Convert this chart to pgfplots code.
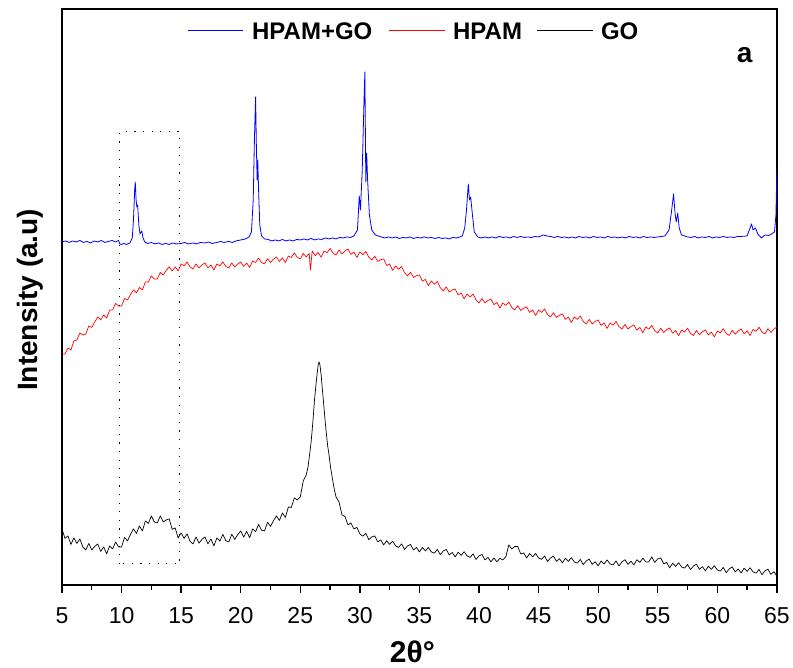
\documentclass[border=0pt]{standalone}
\usepackage{pgfplots}
\pgfplotsset{compat=1.18}
\usepackage{fontspec}
\setmainfont{Liberation Sans}
\begin{document}
\begin{tikzpicture}
\begin{axis}[
  scale only axis, width=715pt, height=576pt,
  xmin=5, xmax=65, ymin=0, ymax=576,
  xtick={5,10,...,65}, minor x tick num=1,
  ytick=\empty,
  xtick pos=left,
  axis line style={line width=1.5pt},
  every tick/.style={black, line width=1.3pt},
  tick align=outside,
  major tick length=8pt, minor tick length=5pt,
  /pgf/number format/assume math mode=true,
  tick label style={font=\fontsize{23}{23}\selectfont},
  xticklabel style={anchor=base, yshift=-31pt},
  xlabel={2θ°},
  xlabel style={font=\fontsize{30}{30}\selectfont\bfseries, at={(rel axis cs:0.49,0)}, anchor=base, yshift=-78pt},
  ylabel={Intensity (a.u)},
  ylabel style={font=\fontsize{28}{28}\selectfont\bfseries, at={(rel axis cs:0,0.495)}, anchor=center, yshift=32pt},
  every axis plot/.append style={line width=0.8pt},
]
% HPAM+GO
\addplot[blue, line join=round] coordinates {
(5.0,343) (5.3,344) (5.6,342.5) (5.9,344) (6.2,343) (6.5,344.5) (6.8,342.5) (7.1,343.5) (7.4,342) (7.7,344) (8.0,343) (8.3,344.5) (8.6,342.5) (8.9,343.5) (9.2,344.5) (9.5,343) (9.75,344.5)
(9.85,341) (10.0,340.5) (10.2,341.5) (10.4,340.5) (10.7,342) (10.9,347) (11.0,365) (11.1,395) (11.15,403) (11.22,385) (11.28,378) (11.35,380) (11.45,360) (11.55,351) (11.7,354) (11.8,347) (11.95,343)
(12.2,341.5) (12.5,342.5) (12.8,341) (13.1,342) (13.4,340.5) (13.7,341.5) (14.0,340.5) (14.3,342) (14.6,341) (15.0,341.5) (15.3,342.5) (15.6,341) (16.0,342) (16.3,341) (16.6,342.5) (17.0,342) (17.3,343) (17.6,341.5) (18.0,342.5) (18.3,343.5) (18.6,342.5) (19.0,343.5) (19.3,342.5) (19.6,344) (20.0,345) (20.4,346) (20.7,348) (20.9,353)
(21.05,385) (21.15,445) (21.25,488) (21.32,435) (21.38,405) (21.43,425) (21.5,395) (21.6,360) (21.75,349) (22.0,346)
(22.3,345.5) (22.6,344) (22.9,345) (23.2,344) (23.5,345.5) (23.8,344) (24.1,345) (24.4,344) (24.7,345.5) (25.0,345) (25.3,346) (25.6,345) (25.9,346.5) (26.2,345) (26.5,346) (26.8,345.5) (27.1,347) (27.4,346) (27.7,347) (28.0,346) (28.3,347.5) (28.6,347) (28.9,348) (29.2,347.5) (29.5,349)
(29.8,355) (29.95,389) (30.05,375) (30.2,415) (30.35,485) (30.42,513) (30.5,403) (30.57,432) (30.65,405) (30.8,370) (31.0,355) (31.3,350) (31.8,348)
(32.1,347) (32.4,348) (32.7,347) (33.0,348) (33.3,346.5) (33.6,347.5) (33.9,347) (34.2,348) (34.5,346.5) (34.8,347.5) (35.1,347) (35.4,348) (35.7,347) (36.0,347.5) (36.3,346.5) (36.6,347.5) (36.9,346.5) (37.2,347) (37.5,346) (37.8,347.5) (38.1,347) (38.4,348)
(38.6,349) (38.8,357) (38.95,375) (39.1,401) (39.2,385) (39.3,388) (39.45,370) (39.6,353) (39.9,348)
(40.2,347) (40.5,348) (40.8,347) (41.1,348) (41.4,347) (41.7,348.5) (42.0,347.5) (42.3,348) (42.6,347) (42.9,348.5) (43.2,347.5) (43.5,348.5) (43.8,347.5) (44.1,348) (44.4,347.5) (44.7,348.5) (45.0,348) (45.4,350) (45.7,349) (46.0,348.5) (46.3,347.5) (46.6,348.5) (46.9,347.5) (47.2,348) (47.5,347) (47.8,348) (48.1,347) (48.4,348.5) (48.7,347.5) (49.0,348) (49.3,347) (49.6,348.5) (49.9,347.5) (50.2,348) (50.5,347) (50.8,348.5) (51.1,347.5) (51.4,348) (51.7,347) (52.0,348) (52.3,347) (52.6,348.5) (52.9,347.5) (53.2,348) (53.5,347) (53.8,348.5) (54.1,347.5) (54.4,348) (54.7,347.5) (55.0,348) (55.3,348.5) (55.6,349)
(55.95,355) (56.15,373) (56.33,391) (56.45,372) (56.55,363) (56.68,372) (56.8,357) (57.0,350) (57.5,348)
(57.8,347.5) (58.1,348.5) (58.4,347) (58.7,348) (59.0,347.5) (59.3,348.5) (59.6,347) (59.9,348) (60.2,347.5) (60.5,348.5) (60.8,347.5) (61.1,348) (61.4,347.5) (61.7,348.5) (62.0,348.5) (62.5,349)
(62.75,357) (62.87,361) (63.0,355) (63.2,357) (63.4,351) (63.7,347) (64.0,350) (64.3,349.5) (64.5,350.5) (64.8,353) (64.92,370) (65.0,415)
};
% HPAM
\addplot[red, line join=round, line width=0.7pt] coordinates {
(5,231) (5.25,231) (5.5,237) (5.75,235) (6,244) (6.25,245) (6.5,252) (6.75,250) (7,251) (7.25,259) (7.5,257.5) (7.75,263)
(8,268) (8.25,265) (8.5,270) (8.75,267) (9,275) (9.25,275) (9.5,281.5) (9.75,279) (10,279) (10.25,286.5) (10.5,285) (10.75,290.5)
(11,295) (11.25,292) (11.5,297.5) (11.75,295) (12,303) (12.25,303) (12.5,309) (12.75,306) (13,306) (13.25,312.5) (13.5,310) (13.75,314.5)
(14,318) (14.25,314) (14.5,318) (14.75,314) (15,321) (15.25,319) (15.5,323) (15.75,318) (16,316) (16.25,321) (16.5,317) (16.75,320)
(17,322) (17.25,317) (17.5,320) (17.75,315) (18,321) (18.25,319) (18.5,323) (18.75,318.5) (19,317) (19.25,322) (19.5,318) (19.75,321)
(20,323) (20.25,318.5) (20.5,322) (20.75,317.5) (21,324) (21.25,322.5) (21.5,327) (21.75,322.5) (22,321) (22.25,326.25) (22.5,322.5) (22.75,325.75)
(23,328) (23.25,323.5) (23.5,327) (23.75,322.5) (24,329) (24.25,327.5) (24.5,332) (24.75,327.5) (25,326) (25.25,331.5) (25.5,328) (25.75,331.5) (25.85,315)
(26,334) (26.25,329.25) (26.5,332.5) (26.75,327.75) (27,334) (27.25,332.25) (27.5,336.5) (27.75,331.75) (28,330) (28.25,335) (28.5,331) (28.75,334)
(29,336) (29.25,330.5) (29.5,333) (29.75,327.5) (30,333) (30.25,330.25) (30.5,333.5) (30.75,327.75) (31,325) (31.25,328.75) (31.5,323.5) (31.75,325.25)
(32,326) (32.25,319.5) (32.5,321) (32.75,314.5) (33,319) (33.25,315.75) (33.5,318.5) (33.75,312.25) (34,309) (34.25,312.75) (34.5,307.5) (34.75,309.25)
(35,310) (35.25,303.75) (35.5,305.5) (35.75,299.25) (36,304) (36.25,300.75) (36.5,303.5) (36.75,297.25) (37,294) (37.25,298) (37.5,293) (37.75,295)
(38,296) (38.25,290) (38.5,292) (38.75,286) (39,291) (39.25,288) (39.5,291) (39.75,285) (40,282) (40.25,286.5) (40.5,282) (40.75,284.5)
(41,286) (41.25,280.25) (41.5,282.5) (41.75,276.75) (42,282) (42.25,279.5) (42.5,283) (42.75,277.5) (43,275) (43.25,279.25) (43.5,274.5) (43.75,276.75)
(44,278) (44.25,272.5) (44.5,275) (44.75,269.5) (45,275) (45.25,272.5) (45.5,276) (45.75,270.5) (46,268) (46.25,272.25) (46.5,267.5) (46.75,269.75)
(47,271) (47.25,265.5) (47.5,268) (47.75,262.5) (48,268) (48.25,265.5) (48.5,269) (48.75,263.5) (49,261) (49.25,265.5) (49.5,261) (49.75,263.5)
(50,265) (50.25,259.5) (50.5,262) (50.75,256.5) (51,262) (51.25,259.75) (51.5,263.5) (51.75,258.25) (52,256) (52.25,260.5) (52.5,256) (52.75,258.5)
(53,260) (53.25,254.75) (53.5,257.5) (53.75,252.25) (54,258) (54.25,255.75) (54.5,259.5) (54.75,254.25) (55,252) (55.25,256.75) (55.5,252.5) (55.75,255.25)
(56,257) (56.25,251.75) (56.5,254.5) (56.75,249.25) (57,255) (57.25,252.9) (57.5,256.75) (57.75,251.6) (58,249.5) (58.25,254.4) (58.5,250.25) (58.75,253.1)
(59,255) (59.25,250) (59.5,253) (59.75,248) (60,254) (60.25,252.1) (60.5,256.25) (60.75,251.4) (61,249.5) (61.25,254.6) (61.5,250.75) (61.75,253.9)
(62,256) (62.25,251.1) (62.5,254.25) (62.75,249.4) (63,255.5) (63.25,253.6) (63.5,257.75) (63.75,252.9) (64,251) (64.25,256.25) (64.5,252.5) (64.75,255.75) (65,258)
};
% GO
\addplot[black, line join=round, line width=0.7pt] coordinates {
(5,56) (5.25,46.5) (5.5,49) (5.75,40.5) (6,47) (6.25,41.5) (6.5,46) (6.75,38) (7,35) (7.25,41.5) (7.5,35) (7.75,38.5)
(8,41) (8.25,33.5) (8.5,38) (8.75,31) (9,39) (9.25,36) (9.5,43) (9.75,38) (10,38) (10.25,47.5) (10.5,44) (10.75,50.5)
(11,56) (11.25,51.5) (11.5,59) (11.75,54) (12,64) (12.25,61.5) (12.5,69) (12.75,63) (13,62) (13.25,69) (13.5,63) (13.75,65)
(14,66) (14.25,55.5) (14.5,57) (14.75,47) (15,52) (15.25,46.5) (15.5,51) (15.75,43.5) (16,41) (16.25,48) (16.5,41.75) (16.75,45.5)
(17,48) (17.25,41) (17.5,46) (17.75,39) (18,47) (18.25,43.75) (18.5,50.5) (18.75,44.25) (19,43) (19.25,50.75) (19.5,45.5) (19.75,50.25)
(20,54) (20.25,47.75) (20.5,53.5) (20.75,47.25) (21,56) (21.25,53.25) (21.5,60.5) (21.75,54.75) (22,54) (22.25,62.75) (22.5,58.5) (22.75,64.25)
(23,69) (23.25,64.5) (23.5,72) (23.75,67.5) (24,78) (24.25,77.5) (24.5,87) (24.75,85) (25,88) (25.25,104)
(25.5,110) (25.65,118) (25.8,132) (25.9,142) (26,155) (26.1,170) (26.2,186) (26.3,198) (26.4,210) (26.5,220) (26.58,223) (26.65,220) (26.75,210) (26.85,196)
(27,176) (27.1,162) (27.2,150) (27.3,139) (27.4,131) (27.55,117) (27.7,106) (27.85,96) (28,88)
(28.25,83) (28.5,70) (28.75,68.5) (29,60) (29.25,62) (29.5,56) (29.75,57.5) (30,51) (30.25,48.75) (30.5,51.5) (30.75,45.25)
(31,48) (31.25,49) (31.5,43) (31.75,45) (32,40) (32.25,44.25) (32.5,40.5) (32.75,43.75) (33,39) (33.25,37.5) (33.5,41) (33.75,35.5)
(34,39) (34.25,40.5) (34.5,35) (34.75,37.5) (35,33) (35.25,37.5) (35.5,34) (35.75,37.5) (36,33) (36.25,31.75) (36.5,35.5) (36.75,30.25)
(37,34) (37.25,35.5) (37.5,30) (37.75,32.5) (38,28) (38.25,32.75) (38.5,29.5) (38.75,33.25) (39,29) (39.25,27.5) (39.5,31) (39.75,25.5)
(40,29) (40.25,30.5) (40.5,25) (40.75,27.5) (41,23) (41.25,27) (41.5,23) (41.75,26.5) (42,25) (42.25,28) (42.5,40) (42.75,36)
(43,38.5) (43.25,38.5) (43.5,31) (43.75,32) (44,27) (44.25,31.5) (44.5,28) (44.75,31.5) (45,27) (45.25,25.5) (45.5,29) (45.75,23.5)
(46,27) (46.25,28.75) (46.5,23.5) (46.75,26.25) (47,22) (47.25,26.75) (47.5,23.5) (47.75,27.25) (48,23) (48.25,21.75) (48.5,25.5) (48.75,20.25)
(49,24) (49.25,25.75) (49.5,20.5) (49.75,23.25) (50,19) (50.25,24) (50.5,21) (50.75,25) (51,21) (51.25,20) (51.5,24) (51.75,19)
(52,23) (52.25,25.25) (52.5,20.5) (52.75,23.75) (53,20) (53.25,25.25) (53.5,22.5) (53.75,26.75) (54,23) (54.25,23) (54.5,28) (54.75,22.5)
(55,26) (55.25,27) (55.5,21) (55.75,22.5) (56,17) (56.25,21.75) (56.5,18.5) (56.75,22.25) (57,18) (57.25,16.75) (57.5,20.5) (57.75,15.25)
(58,19) (58.25,20.75) (58.5,15.5) (58.75,18.25) (59,14) (59.25,18.75) (59.5,15.5) (59.75,19.25) (60,15) (60.25,13.75) (60.5,17.5) (60.75,12.25)
(61,16) (61.25,18) (61.5,13) (61.75,16) (62,12) (62.25,16.75) (62.5,13.5) (62.75,17.25) (63,13) (63.25,11.75) (63.5,15.5) (63.75,10.25)
(64,14) (64.25,15.75) (64.5,10.5) (64.75,13.25) (65,9)
};
\draw[black, line width=1pt, dash pattern=on 1.2pt off 7.4pt] (axis cs:9.8,21) rectangle (axis cs:14.9,453);
\node[font=\fontsize{28}{28}\selectfont\bfseries] at (axis cs:62.3,530) {a};
% legend
\begin{scope}[font=\fontsize{24}{24}\selectfont\bfseries]
\draw[blue, line width=1pt] (rel axis cs:0.1762,0.9618) -- (rel axis cs:0.2531,0.9618);
\node[anchor=west, inner sep=0pt] at (rel axis cs:0.2657,0.9618) {HPAM+GO};
\draw[red, line width=1pt] (rel axis cs:0.4573,0.9618) -- (rel axis cs:0.5357,0.9618);
\node[anchor=west, inner sep=0pt] at (rel axis cs:0.5469,0.9618) {HPAM};
\draw[black, line width=1pt] (rel axis cs:0.6643,0.9618) -- (rel axis cs:0.7427,0.9618);
\node[anchor=west, inner sep=0pt] at (rel axis cs:0.7538,0.9618) {GO};
\end{scope}
\end{axis}
\path ([xshift=-62pt,yshift=-83pt]current axis.south west) rectangle ([xshift=16pt,yshift=9pt]current axis.north east);
\end{tikzpicture}
\end{document}
